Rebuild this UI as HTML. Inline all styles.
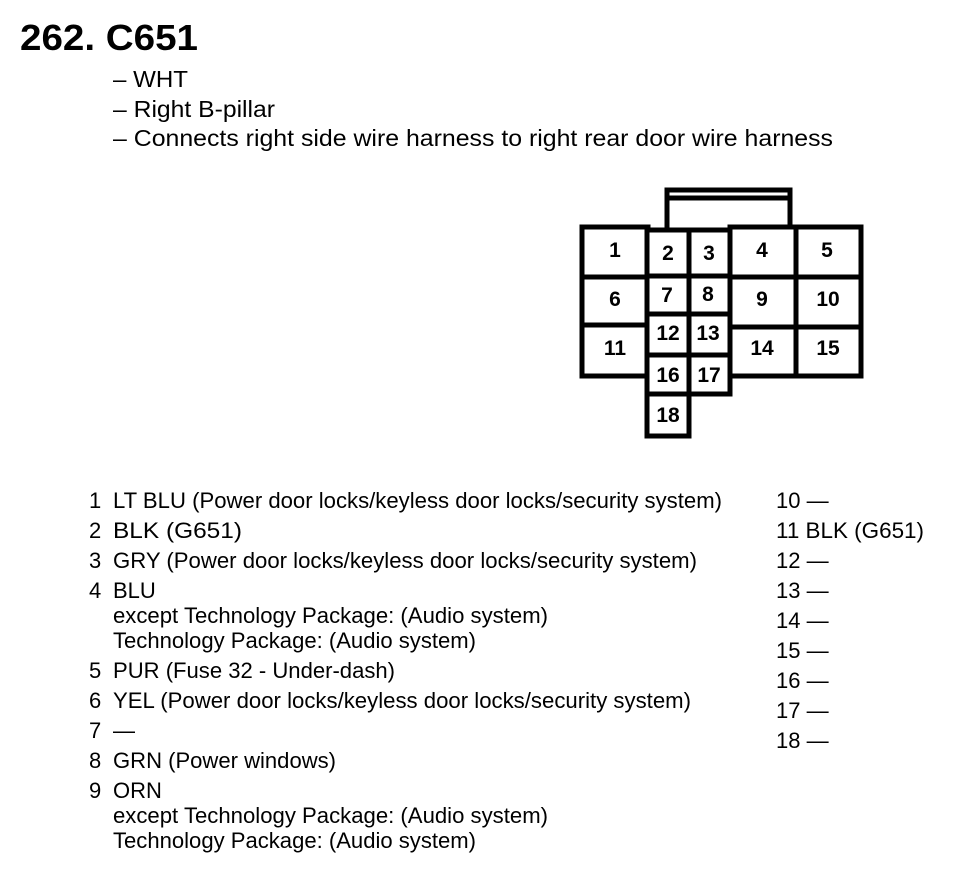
<!DOCTYPE html>
<html><head><meta charset="utf-8"><style>
html,body{margin:0;padding:0;background:#fff;}
svg{display:block}
text{font-family:"Liberation Sans",Arial,sans-serif;fill:#000}
</style></head><body>
<svg width="960" height="872" viewBox="0 0 960 872" xmlns="http://www.w3.org/2000/svg">
<text x="20" y="50" font-size="36" font-weight="bold" textLength="178" lengthAdjust="spacingAndGlyphs">262. C651</text>
<g font-size="23">
<text x="113" y="87" textLength="75" lengthAdjust="spacingAndGlyphs">– WHT</text>
<text x="113" y="117" textLength="162" lengthAdjust="spacingAndGlyphs">– Right B-pillar</text>
<text x="113" y="146" textLength="720" lengthAdjust="spacingAndGlyphs">– Connects right side wire harness to right rear door wire harness</text>
</g>
<!-- connector -->
<g fill="#fff" stroke="#000" stroke-width="5">
<rect x="667" y="190" width="123" height="40"/>
<line x1="667" y1="198" x2="790" y2="198"/>
<rect x="582" y="227" width="66" height="50"/>
<rect x="582" y="277" width="66" height="48"/>
<rect x="582" y="325" width="66" height="51"/>
<rect x="730" y="227" width="66" height="50"/>
<rect x="796" y="227" width="65" height="50"/>
<rect x="730" y="277" width="66" height="50"/>
<rect x="796" y="277" width="65" height="50"/>
<rect x="730" y="327" width="66" height="49"/>
<rect x="796" y="327" width="65" height="49"/>
<rect x="647" y="230" width="42" height="46"/>
<rect x="689" y="230" width="41" height="46"/>
<rect x="647" y="276" width="42" height="38"/>
<rect x="689" y="276" width="41" height="38"/>
<rect x="647" y="314" width="42" height="41"/>
<rect x="689" y="314" width="41" height="41"/>
<rect x="647" y="355" width="42" height="39"/>
<rect x="689" y="355" width="41" height="39"/>
<rect x="647" y="394" width="42" height="42"/>
</g>
<g font-size="21" font-weight="bold" text-anchor="middle">
<text x="615" y="257">1</text>
<text x="668" y="260">2</text><text x="709" y="260">3</text>
<text x="762" y="257">4</text><text x="827" y="257">5</text>
<text x="615" y="306">6</text>
<text x="667" y="302">7</text><text x="708" y="301">8</text>
<text x="762" y="306">9</text><text x="828" y="306">10</text>
<text x="615" y="355">11</text>
<text x="668" y="340">12</text><text x="708" y="340">13</text>
<text x="762" y="355">14</text><text x="828" y="355">15</text>
<text x="668" y="382">16</text><text x="709" y="382">17</text>
<text x="668" y="422">18</text>
</g>
<g font-size="22">
<text x="89" y="508">1</text><text x="113" y="508" textLength="609" lengthAdjust="spacingAndGlyphs">LT BLU (Power door locks/keyless door locks/security system)</text>
<text x="89" y="538">2</text><text x="113" y="538" textLength="129" lengthAdjust="spacingAndGlyphs">BLK (G651)</text>
<text x="89" y="568">3</text><text x="113" y="568" textLength="584" lengthAdjust="spacingAndGlyphs">GRY (Power door locks/keyless door locks/security system)</text>
<text x="89" y="598">4</text><text x="113" y="598">BLU</text>
<text x="113" y="623" textLength="435" lengthAdjust="spacingAndGlyphs">except Technology Package: (Audio system)</text>
<text x="113" y="648" textLength="363" lengthAdjust="spacingAndGlyphs">Technology Package: (Audio system)</text>
<text x="89" y="678">5</text><text x="113" y="678" textLength="282" lengthAdjust="spacingAndGlyphs">PUR (Fuse 32 - Under-dash)</text>
<text x="89" y="708">6</text><text x="113" y="708" textLength="578" lengthAdjust="spacingAndGlyphs">YEL (Power door locks/keyless door locks/security system)</text>
<text x="89" y="738">7</text><text x="113" y="738">—</text>
<text x="89" y="768">8</text><text x="113" y="768" textLength="223" lengthAdjust="spacingAndGlyphs">GRN (Power windows)</text>
<text x="89" y="798">9</text><text x="113" y="798">ORN</text>
<text x="113" y="823" textLength="435" lengthAdjust="spacingAndGlyphs">except Technology Package: (Audio system)</text>
<text x="113" y="848" textLength="363" lengthAdjust="spacingAndGlyphs">Technology Package: (Audio system)</text>
<text x="776" y="508">10 —</text>
<text x="776" y="538" textLength="148" lengthAdjust="spacingAndGlyphs">11  BLK (G651)</text>
<text x="776" y="568">12 —</text>
<text x="776" y="598">13 —</text>
<text x="776" y="628">14 —</text>
<text x="776" y="658">15 —</text>
<text x="776" y="688">16 —</text>
<text x="776" y="718">17 —</text>
<text x="776" y="748">18 —</text>
</g>
</svg>
</body></html>
